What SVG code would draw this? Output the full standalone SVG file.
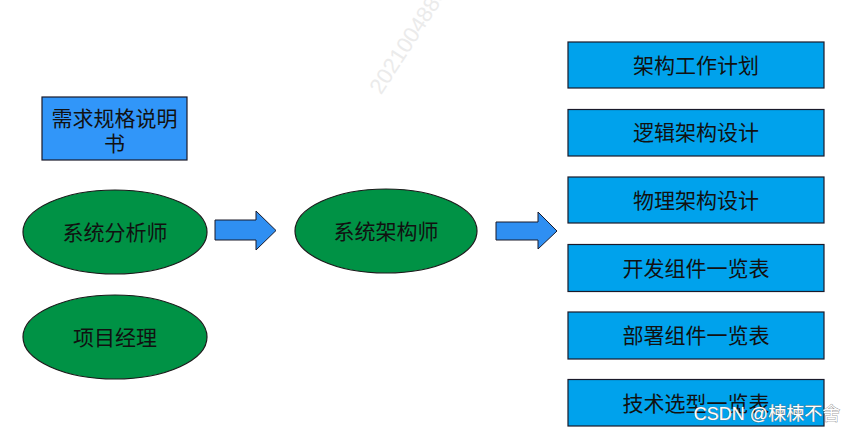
<svg xmlns="http://www.w3.org/2000/svg" width="858" height="434" viewBox="0 0 858 434">
<style>
text{font-family:"Liberation Sans","Noto Sans CJK SC",sans-serif;fill:#111;text-anchor:middle;dominant-baseline:central}
.box{fill:#00a2ec;stroke:#1a1a2a;stroke-width:1.2}
.req{fill:#3196f9;stroke:#1a1a2a;stroke-width:1.2}
.ell{fill:#009245;stroke:#1a1a1a;stroke-width:1.2}
.arr{fill:#2f8ff2;stroke:#1a1a2a;stroke-width:1}
.t{font-size:21px}
</style>
<rect width="858" height="434" fill="#fff"/>
<text x="0" y="0" transform="translate(408,40) rotate(-57)" style="font-size:22px;fill:#ebebeb">2021004880</text>
<g id="req">
<rect class="req" x="42" y="97" width="145" height="63"/>
<text class="t" x="114.5" y="118">需求规格说明</text>
<text class="t" x="114.5" y="143">书</text>
</g>
<g id="analyst">
<ellipse class="ell" cx="115" cy="232" rx="92" ry="42"/>
<text class="t" x="115" y="232">系统分析师</text>
</g>
<g id="pm">
<ellipse class="ell" cx="115" cy="337" rx="92" ry="42"/>
<text class="t" x="115" y="337">项目经理</text>
</g>
<g id="architect">
<ellipse class="ell" cx="386" cy="231" rx="91" ry="42"/>
<text class="t" x="386" y="231">系统架构师</text>
</g>
<g id="connectors">
<path class="arr" d="M215,220 H256 V211 L276,230.5 L256,250 V240 H215 Z"/>
<path class="arr" d="M496,222 H538 V212 L557,231 L538,249 V240 H496 Z"/>
</g>
<g id="b1"><rect class="box" x="568" y="42" width="256" height="46"/><text class="t" x="696" y="65">架构工作计划</text></g>
<g id="b2"><rect class="box" x="568" y="109.5" width="256" height="46.5"/><text class="t" x="696" y="132.5">逻辑架构设计</text></g>
<g id="b3"><rect class="box" x="568" y="177" width="256" height="46"/><text class="t" x="696" y="200">物理架构设计</text></g>
<g id="b4"><rect class="box" x="568" y="244.5" width="256" height="47"/><text class="t" x="696" y="268">开发组件一览表</text></g>
<g id="b5"><rect class="box" x="568" y="312" width="256" height="47"/><text class="t" x="696" y="335.5">部署组件一览表</text></g>
<g id="b6"><rect class="box" x="568" y="379.5" width="256" height="46.5"/><text class="t" x="696" y="403">技术选型一览表</text></g>
<text x="767" y="414" style="font-size:18px;fill:#fff;stroke:#777;stroke-width:0.7;paint-order:stroke">CSDN @楝楝不舍</text>
</svg>
